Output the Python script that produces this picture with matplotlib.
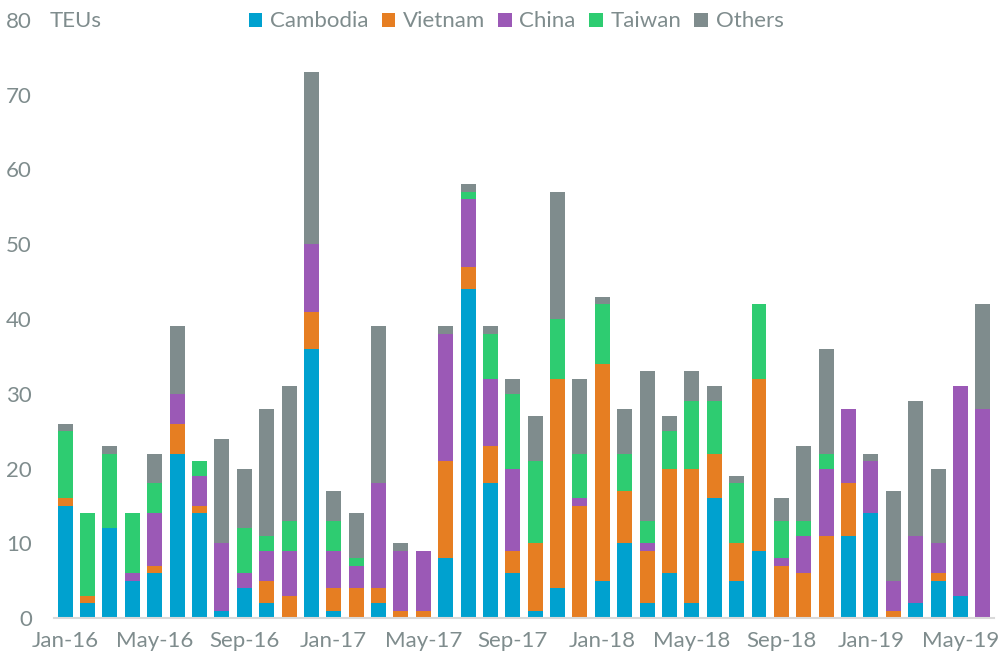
import numpy as np
import matplotlib
matplotlib.use("Agg")
import matplotlib.pyplot as plt

# monthly TEUs, Jan-16 .. Jun-19
months = ["Jan-16", "Feb-16", "Mar-16", "Apr-16", "May-16", "Jun-16", "Jul-16", "Aug-16",
          "Sep-16", "Oct-16", "Nov-16", "Dec-16", "Jan-17", "Feb-17", "Mar-17", "Apr-17",
          "May-17", "Jun-17", "Jul-17", "Aug-17", "Sep-17", "Oct-17", "Nov-17", "Dec-17",
          "Jan-18", "Feb-18", "Mar-18", "Apr-18", "May-18", "Jun-18", "Jul-18", "Aug-18",
          "Sep-18", "Oct-18", "Nov-18", "Dec-18", "Jan-19", "Feb-19", "Mar-19", "Apr-19",
          "May-19", "Jun-19"]

cambodia = [15, 2, 12, 5, 6, 22, 14, 1, 4, 2, 0, 36, 1, 0, 2, 0, 0, 8, 44, 18, 6, 1, 4, 0,
            5, 10, 2, 6, 2, 16, 5, 9, 0, 0, 0, 11, 14, 0, 2, 5, 3, 0]
vietnam = [1, 1, 0, 0, 1, 4, 1, 0, 0, 3, 3, 5, 3, 4, 2, 1, 1, 13, 3, 5, 3, 9, 28, 15,
           29, 7, 7, 14, 18, 6, 5, 23, 7, 6, 11, 7, 0, 1, 0, 1, 0, 0]
china = [0, 0, 0, 1, 7, 4, 4, 9, 2, 4, 6, 9, 5, 3, 14, 8, 8, 17, 9, 9, 11, 0, 0, 1,
         0, 0, 1, 0, 0, 0, 0, 0, 1, 5, 9, 10, 7, 4, 9, 4, 28, 28]
taiwan = [9, 11, 10, 8, 4, 0, 2, 0, 6, 2, 4, 0, 4, 1, 0, 0, 0, 0, 1, 6, 10, 11, 8, 6,
          8, 5, 3, 5, 9, 7, 8, 10, 5, 2, 2, 0, 0, 0, 0, 0, 0, 0]
others = [1, 0, 1, 0, 4, 9, 0, 14, 8, 17, 18, 23, 4, 6, 21, 1, 0, 1, 1, 1, 2, 6, 17, 10,
          1, 6, 20, 2, 4, 2, 1, 0, 3, 10, 14, 0, 1, 12, 18, 10, 0, 14]

series = [("Cambodia", cambodia, "#00A1CF"),
          ("Vietnam", vietnam, "#E67E22"),
          ("China", china, "#9B59B6"),
          ("Taiwan", taiwan, "#2ECC71"),
          ("Others", others, "#7F8C8D")]

grey = "#7F8C8D"
plt.rcParams['font.family'] = ['Lato', 'DejaVu Sans']

fig = plt.figure(figsize=(10.08, 6.69), dpi=100)
ax = fig.add_axes([0.0536, 0.0762, 0.9325, 0.8940])

x = np.arange(len(months))
bottom = np.zeros(len(months))
for name, vals, col in series:
    ax.bar(x, vals, bottom=bottom, width=0.67, color=col, label=name)
    bottom += np.array(vals)

ax.set_xlim(-0.5, len(months) - 0.5)
ax.set_ylim(0, 80)
ax.set_yticks(range(0, 81, 10))
ax.set_xticks(x[::4])
ax.set_xticklabels(months[::4])
ax.tick_params(axis='both', length=0, labelsize=16, colors=grey)
ax.tick_params(axis='x', pad=9)
ax.tick_params(axis='y', pad=16)

for s in ["top", "right", "left"]:
    ax.spines[s].set_visible(False)
ax.spines["bottom"].set_color("#D9D9D9")
ax.spines["bottom"].set_linewidth(1.5)

fig.text(0.049, 0.968, "TEUs", color=grey, fontsize=16, va="center", ha="left")
fig.legend(loc="center", bbox_to_anchor=(0.512, 0.968), ncol=5, frameon=False,
           fontsize=16, labelcolor=grey, handlelength=0.6, handleheight=0.6,
           handletextpad=0.35, columnspacing=0.6)

fig.savefig("out.png", dpi=100)
